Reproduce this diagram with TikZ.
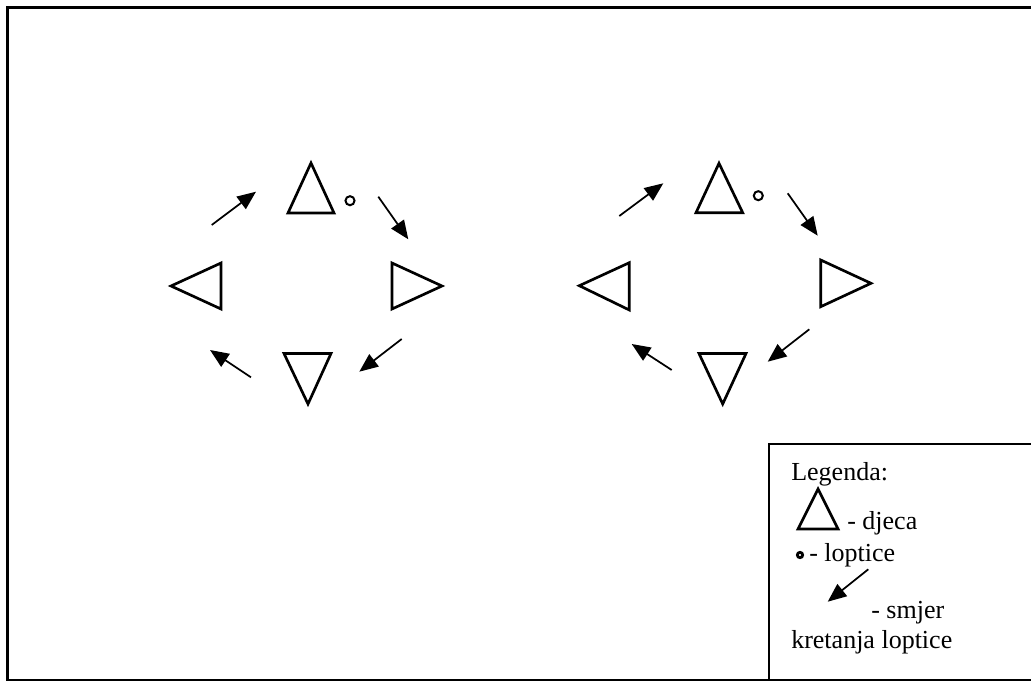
\documentclass[tikz,border=0pt]{standalone}
\usepackage{fontspec}
\setmainfont{Liberation Serif}
\usetikzlibrary{arrows.meta}
\begin{document}
\begin{tikzpicture}[x=0.75pt,y=-0.75pt,
  tri/.style={draw,line width=2pt,line join=miter},
  mv/.style={line width=1.3pt,-{Triangle[length=14pt,width=11.5pt]}},
  ball/.style={draw,line width=1.5pt},
  lbl/.style={anchor=base west,inner sep=0pt,font=\fontsize{19.5}{23}\selectfont},
  frame/.style={line width=2pt}]
\useasboundingbox (0,0) rectangle (1031,681);
\clip (0,0) rectangle (1031,681);
% outer frame
\draw[frame] (7.5,7.5) rectangle (1045,680);
% legend box
\draw[frame,line width=1.6pt] (769,444) rectangle (1045,695);

% ---- left group ----
\draw[tri] (311,163) -- (288,213) -- (334,213) -- cycle;
\draw[ball] (350,200.7) circle (3.4pt);
\draw[tri] (392,263) -- (392,309) -- (442,286) -- cycle;
\draw[tri] (171,286) -- (221,263) -- (221,309) -- cycle;
\draw[tri] (284,353.5) -- (331,353.5) -- (308,404) -- cycle;
\coordinate (a1s) at (211.7,225);   \coordinate (a1e) at (256,191.7);
\coordinate (a2s) at (378.3,196.7); \coordinate (a2e) at (408.3,239.3);
\coordinate (a3s) at (401.7,339);   \coordinate (a3e) at (359.3,371.7);
\coordinate (a4s) at (251,377.3);   \coordinate (a4e) at (210,350);
\draw[mv] (a1s) -- (a1e);
\draw[mv] (a2s) -- (a2e);
\draw[mv] (a3s) -- (a3e);
\draw[mv] (a4s) -- (a4e);

% ---- right group ----
\draw[tri] (719,163.3) -- (696,212.7) -- (742.7,212.7) -- cycle;
\draw[ball] (758.3,195.7) circle (3.4pt);
\draw[tri] (820.7,260) -- (820.7,306.7) -- (871,283.3) -- cycle;
\draw[tri] (579.3,285.7) -- (629.3,262.7) -- (629.3,310) -- cycle;
\draw[tri] (699,353.5) -- (746,353.5) -- (722.7,404) -- cycle;
\coordinate (b1s) at (619.3,216);   \coordinate (b1e) at (663.3,183.3);
\coordinate (b2s) at (787.7,193.3); \coordinate (b2e) at (817.7,235.7);
\coordinate (b3s) at (809.3,329.3); \coordinate (b3e) at (767.7,361.7);
\coordinate (b4s) at (671.7,370);   \coordinate (b4e) at (631.7,344);
\draw[mv] (b1s) -- (b1e);
\draw[mv] (b2s) -- (b2e);
\draw[mv] (b3s) -- (b3e);
\draw[mv] (b4s) -- (b4e);

% ---- legend ----
\node[lbl] (lg) at (791,480) {Legenda:};
\draw[tri] (818,489) -- (798,529) -- (838,529) -- cycle;
\node[lbl] (ld) at (847,529) {- djeca};
\draw[ball,line width=2.1pt] (800,555) circle (2pt);
\node[lbl] (ll) at (809,561) {- loptice};
\coordinate (cs) at (868.3,569.3); \coordinate (ce) at (827.7,601.7);
\draw[mv] (cs) -- (ce);
\node[lbl] (ls) at (871,618) {- smjer};
\node[lbl] (lk) at (791,648) {kretanja loptice};
\end{tikzpicture}
\end{document}
